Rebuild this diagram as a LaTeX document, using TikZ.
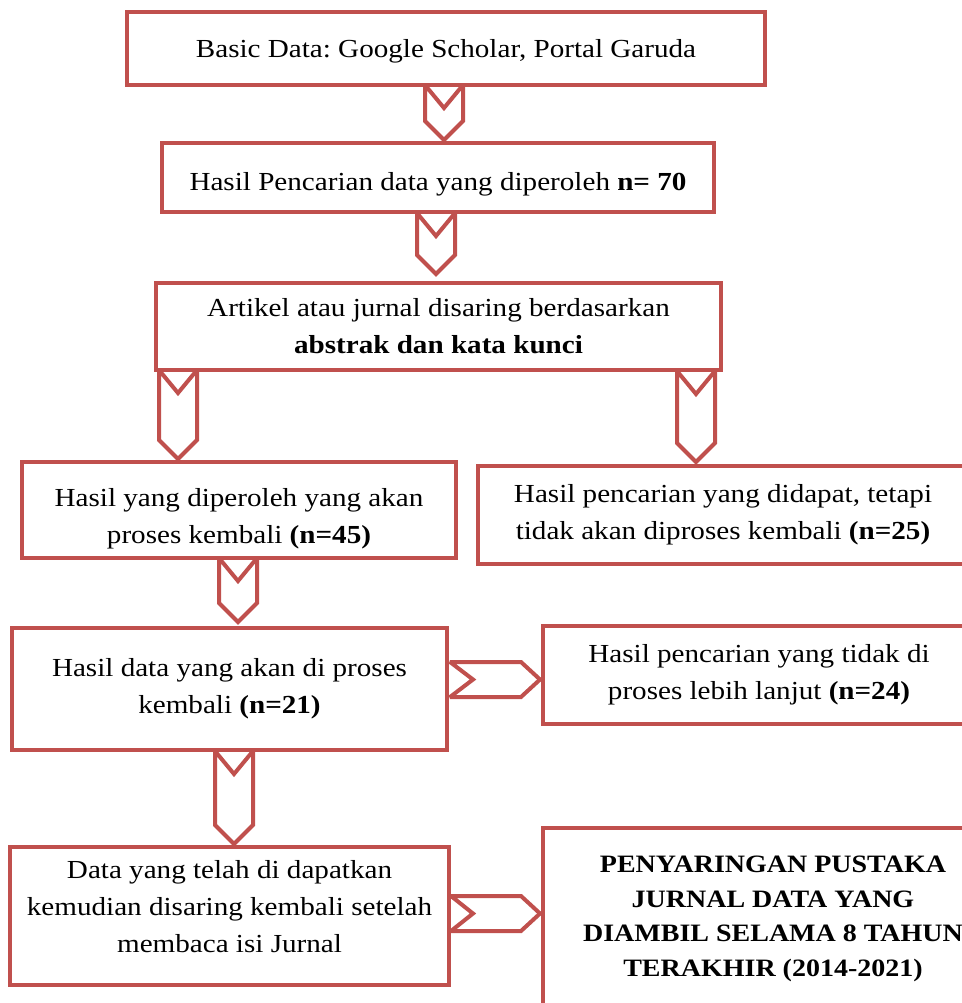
\documentclass[tikz,border=0pt]{standalone}
\usepackage{fontspec}
\setmainfont{Liberation Serif}[FakeStretch=1.12]
\frenchspacing
\definecolor{boxred}{HTML}{C0504D}
\tikzstyle{stepBox}=[shape=rectangle,draw=boxred,line width=4.5pt,fill=white,align=center,inner sep=0pt,font=\fontsize{26}{37}\selectfont]
\tikzstyle{chev}=[draw=boxred,line width=4pt,fill=white,miter limit=2]
\begin{document}
\begin{tikzpicture}[x=1pt,y=-1pt]
        \useasboundingbox (0,0) rectangle (961,1003);
        % boxes
        \node[stepBox,minimum width=638,minimum height=73,text height=20,text depth=2] (b1) at (446,48.5) {Basic Data: Google Scholar, Portal Garuda};
        \node[stepBox,minimum width=552,minimum height=69,text height=26,text depth=0] (b2) at (438,177.5) {Hasil Pencarian data yang diperoleh \textbf{n= 70}};
        \node[stepBox,minimum width=565,minimum height=87] (b3) at (438.5,326.5) {Artikel atau jurnal disaring berdasarkan\\ \textbf{abstrak dan kata kunci}};

        \node[stepBox,minimum width=434,minimum height=96,text height=72,text depth=5] (b4) at (239,510) {Hasil yang diperoleh yang akan\\ proses kembali \textbf{(n=45)}};
        \node[stepBox,minimum width=490,minimum height=98] (b5) at (723,515) {Hasil pencarian yang didapat, tetapi\\ tidak akan diproses kembali \textbf{(n=25)}};

        \node[stepBox,minimum width=435,minimum height=122] (b6) at (229.5,689) {Hasil data yang akan di proses\\ kembali \textbf{(n=21)}};
        \node[stepBox,minimum width=432,minimum height=98] (b7) at (759,675) {Hasil pencarian yang tidak di\\ proses lebih lanjut \textbf{(n=24)}};

        \node[stepBox,minimum width=439,minimum height=138,text depth=20] (b8) at (229.5,916) {Data yang telah di dapatkan\\ kemudian disaring kembali setelah\\ membaca isi Jurnal};
        \node[stepBox,minimum width=460,minimum height=182,font=\bfseries\fontsize{25}{34.5}\selectfont] (b9) at (773,919) {PENYARINGAN PUSTAKA\\ JURNAL DATA YANG\\ DIAMBIL SELAMA 8 TAHUN\\ TERAKHIR (2014-2021)};

        % chevrons down
        \draw[chev] (425,85) -- (444,108) -- (463,85) -- (463,121) -- (444,140) -- (425,121) -- cycle;
        \draw[chev] (417,213) -- (436,236) -- (455,213) -- (455,255) -- (436,274) -- (417,255) -- cycle;
        \draw[chev] (159,370) -- (178,393) -- (197,370) -- (197,440) -- (178,459) -- (159,440) -- cycle;
        \draw[chev] (677,371) -- (696,394) -- (715,371) -- (715,443) -- (696,462) -- (677,443) -- cycle;
        \draw[chev] (219,558) -- (238,581) -- (257,558) -- (257,603) -- (238,622) -- (219,603) -- cycle;
        \draw[chev] (215,751) -- (234,774) -- (253,751) -- (253,825) -- (234,844) -- (215,825) -- cycle;

        % chevrons right
        \draw[chev] (450,662) -- (473,679.5) -- (450,697) -- (521,697) -- (540,679.5) -- (521,662) -- cycle;
        \draw[chev] (451,896) -- (473,913.5) -- (451,931) -- (521,931) -- (540,913.5) -- (521,896) -- cycle;
\end{tikzpicture}
\end{document}
